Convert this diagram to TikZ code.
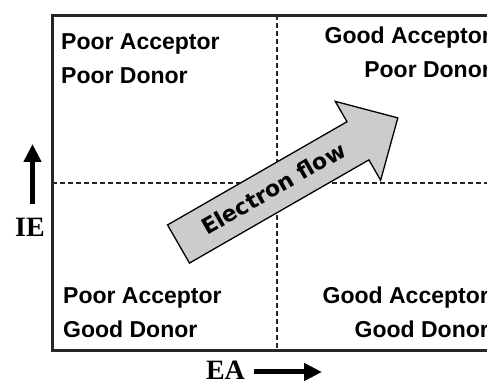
\documentclass[tikz,border=0pt]{standalone}
\usepackage{fontspec}
\setmainfont{Liberation Sans}
\newfontfamily\axisfont{Liberation Serif}
\newfontfamily\flowfont{DejaVu Sans}
\usepackage{tikz}
\usetikzlibrary{arrows.meta}
\tikzstyle{quadrant}=[inner sep=0pt, font=\fontsize{23}{34}\selectfont\bfseries]
\tikzstyle{axis label}=[inner sep=0pt, font=\axisfont\fontsize{28}{30}\selectfont\bfseries]
\tikzstyle{flow label}=[inner sep=0pt, rotate=29.9, font=\flowfont\fontsize{22}{24}\selectfont\bfseries]
\tikzstyle{frame edge}=[draw=black!85, line width=3pt]
\tikzstyle{split edge}=[draw=black!85, line width=2.2pt, dash pattern=on 5pt off 3pt]
\tikzstyle{axis edge}=[-{Triangle[width=17pt,length=18pt]}, line width=5pt]
\tikzstyle{flow}=[fill=black!20, draw=black, line width=1.3pt, line join=miter]

\begin{document}
\begin{tikzpicture}[x=1pt, y=1pt]
        	\useasboundingbox (0,0) rectangle (487,382);
        	\clip (0,0) rectangle (487,382);
        	% frame and dashed quadrant lines
        	\draw [style=frame edge] (510,366.5) -- (52,366.5) -- (52,31) -- (510,31);
        	\draw [style=split edge] (277,366.5) -- (277,31);
        	\draw [style=split edge] (52,199) -- (510,199);
        	% quadrant labels (base = last line)
        	\node [style=quadrant, anchor=base west, align=left] (0) at (61,298) {Poor Acceptor\\Poor Donor};
        	\node [style=quadrant, anchor=base east, align=right] (1) at (491,304) {Good Acceptor\\Poor Donor};
        	\node [style=quadrant, anchor=base west, align=left] (2) at (63,44.5) {Poor Acceptor\\Good Donor};
        	\node [style=quadrant, anchor=base east, align=right] (3) at (489,44.5) {Good Acceptor\\Good Donor};
        	% electron flow arrow
        	\begin{scope}[shift={(178.5,138)}, rotate=29.9]
        		\draw [style=flow] (0,-22) -- (207,-22) -- (207,-45.5) -- (253,0) -- (207,45.5) -- (207,22) -- (0,22) -- cycle;
        		\node [style=flow label] (4) at (110,1) {Electron flow};
        	\end{scope}
        	% axes
        	\node [style=axis label] (5) at (30,155) {IE};
        	\coordinate (6) at (32.5,238);
        	\draw [style=axis edge] ([xshift=2.5pt, yshift=14pt]5.north) -- (6);
        	\node [style=axis label] (7) at (225.5,11.5) {EA};
        	\coordinate (8) at (322,10);
        	\draw [style=axis edge] ([xshift=9pt, yshift=-1.5pt]7.east) -- (8);
\end{tikzpicture}
\end{document}
